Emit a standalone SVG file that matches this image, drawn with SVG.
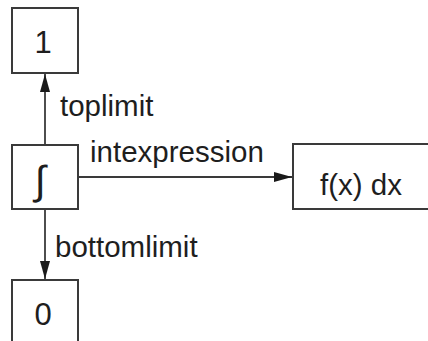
<svg xmlns="http://www.w3.org/2000/svg" width="428" height="341" viewBox="0 0 428 341">
<style>
.box{fill:#fff;stroke:#3a3a3a;stroke-width:2}
.t{font-family:"Liberation Sans",Arial,sans-serif;font-size:29.5px;fill:#1e1e1e}
.c{text-anchor:middle}
.d{font-size:31px}
.edge{stroke:#3a3a3a;stroke-width:1.8;fill:none}
</style>
<defs>
<marker id="ah" viewBox="0 0 18 10" refX="18" refY="5" markerWidth="18" markerHeight="10" markerUnits="userSpaceOnUse" orient="auto">
<path d="M0,0 L18,5 L0,10 Z" fill="#1a1a1a"/>
</marker>
</defs>
<rect width="428" height="341" fill="#fff"/>
<g id="connectors">
<line class="edge" x1="45" y1="145" x2="45" y2="74" marker-end="url(#ah)"/>
<line class="edge" x1="45" y1="209" x2="45" y2="279" marker-end="url(#ah)"/>
<line class="edge" x1="78" y1="177" x2="292" y2="177" marker-end="url(#ah)"/>
<text class="t" x="60" y="116">toplimit</text>
<text class="t" x="90" y="162">intexpression</text>
<text class="t" x="55" y="257">bottomlimit</text>
</g>
<g id="node-1">
<rect class="box" x="12" y="8" width="66" height="65"/>
<text class="t c d" x="43" y="53">1</text>
</g>
<g id="node-int">
<rect class="box" x="12" y="145" width="66" height="64"/>
<text class="t c" x="40" y="194" style="font-size:40px">∫</text>
</g>
<g id="node-fx">
<rect class="box" x="293" y="144" width="140" height="65"/>
<text class="t c" x="361" y="195">f(x) dx</text>
</g>
<g id="node-0">
<rect class="box" x="12" y="280" width="66" height="70"/>
<text class="t c d" x="43" y="325">0</text>
</g>
</svg>
